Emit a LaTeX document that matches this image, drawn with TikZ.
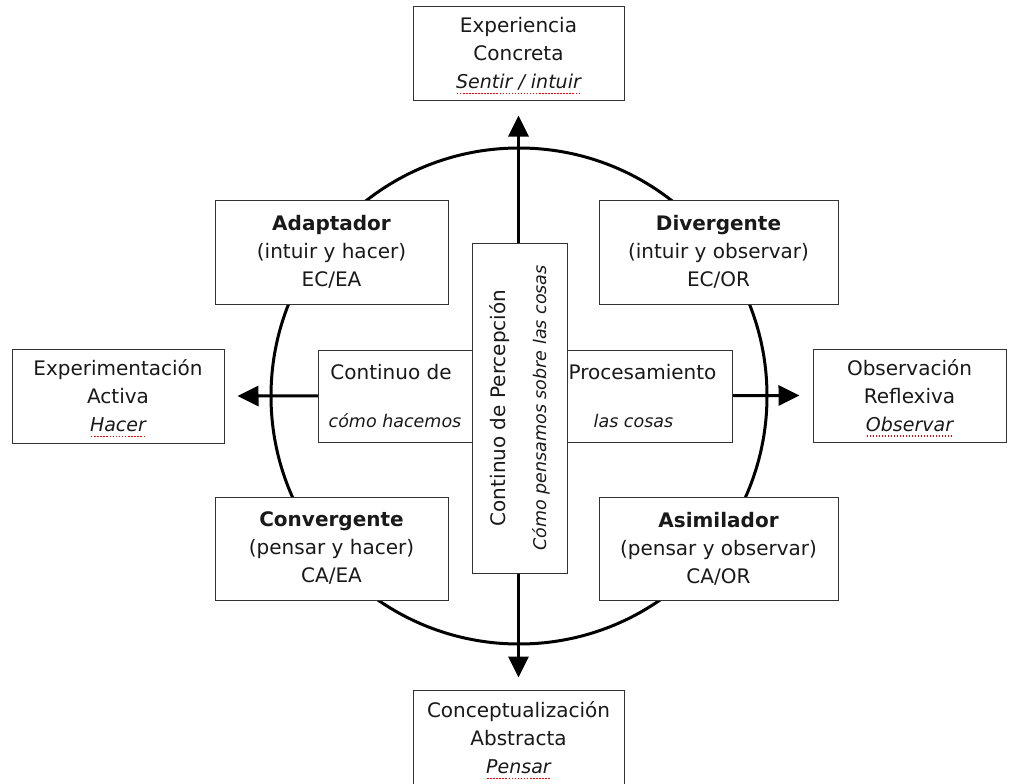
\documentclass[tikz,border=0pt]{standalone}
\usepackage{fontspec}
\setmainfont{DejaVu Sans}
\usetikzlibrary{arrows.meta,backgrounds}

% red dotted spell-check mark under a word
\newcommand\spellmark[1]{\setbox0=\hbox{#1}\rlap{\copy0}\smash{\raisebox{-5.5pt}{\color{red}\hbox to \wd0{\xleaders\hbox to 3pt{\hss\rule{1.5pt}{1.5pt}\hss}\hfill}}}}
% italic sizes used in the outer and inner boxes
\newcommand\outerit[1]{{\fontsize{19}{28}\selectfont\itshape #1}}
\newcommand\innerit[1]{{\fontsize{17.5}{28}\selectfont\itshape #1}}

\begin{document}
\begin{tikzpicture}[x=1pt,y=-1pt,
  box/.style={draw=black!80, line width=1pt, fill=white, inner sep=0pt,
    align=center, text=black!90, font=\fontsize{20}{28}\selectfont},
  ring/.style={line width=3pt},
  axis/.style={line width=3pt,
    {Triangle[length=21pt,width=20pt]}-{Triangle[length=21pt,width=20pt]}},
]
\useasboundingbox (0,0) rectangle (1013,784);

% four poles of the cycle
\node[box, minimum width=211, minimum height=94] (ec) at (518.5,54)
  {Experiencia\\Concreta\\\outerit{\spellmark{Sentir / intuir}}};
\node[box, minimum width=211, minimum height=96] (ac) at (518.5,738)
  {Conceptualización\\Abstracta\\\outerit{\spellmark{Pensar}}};
\node[box, minimum width=212, minimum height=94] (ea) at (118,396)
  {Experimentación\\Activa\\\outerit{\spellmark{Hacer}}};
\node[box, minimum width=193, minimum height=93] (or) at (909.5,395.5)
  {Observación\\Reflexiva\\\outerit{\spellmark{Observar}}};

% learning styles
\node[box, minimum width=233, minimum height=104] (adap) at (331.5,252)
  {\textbf{Adaptador}\\(intuir y hacer)\\EC/EA};
\node[box, minimum width=239, minimum height=104] (div) at (718.5,252)
  {\textbf{Divergente}\\(intuir y observar)\\EC/OR};
\node[box, minimum width=233, minimum height=103] (conv) at (331.5,548.5)
  {\textbf{Convergente}\\(pensar y hacer)\\CA/EA};
\node[box, minimum width=239, minimum height=103] (asim) at (718.5,548.5)
  {\textbf{Asimilador}\\(pensar y observar)\\CA/OR};

% processing continuum
\node[box, minimum width=154, minimum height=92] (cont) at (395,396)
  {Continuo de\hspace*{8pt}\\[20pt]\innerit{cómo hacemos}};
\node[box, minimum width=165, minimum height=92] (proc) at (649.5,396)
  {Procesamiento\hspace*{14pt}\\[20pt]\innerit{las cosas}\hspace*{32pt}};

% perception continuum
\node[box, rotate=90, minimum width=330, minimum height=95] (cp) at (519.5,408)
  {Continuo de Percepción\\[13pt]\innerit{Cómo pensamos sobre las cosas}};

\begin{scope}[on background layer]
  \draw[ring] (519,396) circle[radius=248];
  \draw[axis] ([yshift=12pt]ac.north) -- ([yshift=-14pt]ec.south);
  \draw[axis] ([xshift=13pt]ea.east) -- ([xshift=-13pt]or.west);
\end{scope}
\end{tikzpicture}
\end{document}
